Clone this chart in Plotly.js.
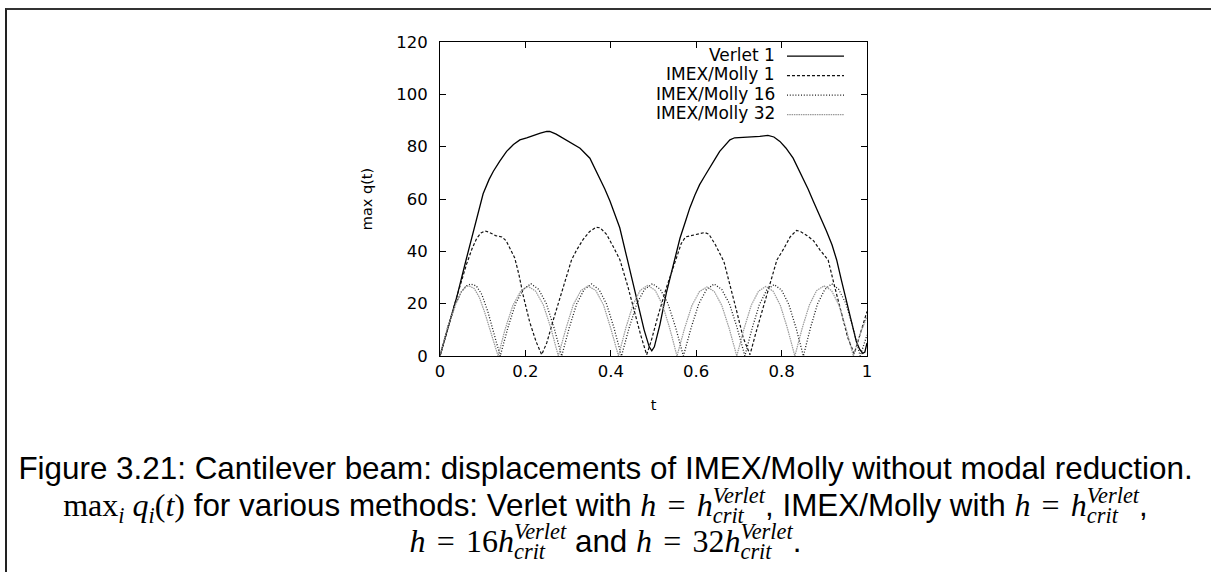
<!DOCTYPE html>
<html><head><meta charset="utf-8">
<script src="https://cdn.plot.ly/plotly-3.0.1.min.js"></script>
<style>
body{margin:0;background:#fff;width:1211px;height:572px;overflow:hidden;position:relative;font-family:"Liberation Sans",Arial,sans-serif}
#plot{position:absolute;left:0;top:0;width:1211px;height:572px}
#frame{position:absolute;left:5px;top:8px;right:-10px;bottom:-10px;border-left:2px solid #222;border-top:2px solid #333;pointer-events:none}
.cap{position:absolute;left:0;width:1211px;text-align:center;font-size:31.4px;line-height:36px;height:36px;color:#000;white-space:nowrap}
.m{font-family:"Liberation Serif","DejaVu Serif",serif;font-size:32px}
.eq{margin:0 0.1em}
.sb{font-size:0.7em;vertical-align:-0.3em;line-height:0;font-style:italic}
.ss{position:relative;top:-0.6em;font-size:0.7em;font-style:italic;line-height:0}
.ss .sub{position:absolute;left:0;top:0.92em;line-height:normal}
</style></head>
<body>
<div id="plot"></div>
<div id="frame"></div>
<div class="cap" id="c1" style="top:451px">Figure 3.21: Cantilever beam: displacements of IMEX/Molly without modal reduction.</div>
<div class="cap" id="c2" style="top:487px"><span class="m">max<span class="sb">i</span> <i>q</i><span class="sb">i</span>(<i>t</i>)</span> for various methods: Verlet with <span class="m"><i>h</i> <span class="eq">=</span> <i>h</i><span class="ss">Verlet<span class="sub">crit</span></span></span>, IMEX/Molly with <span class="m"><i>h</i> <span class="eq">=</span> <i>h</i><span class="ss">Verlet<span class="sub">crit</span></span></span>,</div>
<div class="cap" id="c3" style="top:523px"><span class="m"><i>h</i> <span class="eq">=</span> 16<i>h</i><span class="ss">Verlet<span class="sub">crit</span></span></span> and <span class="m"><i>h</i> <span class="eq">=</span> 32<i>h</i><span class="ss">Verlet<span class="sub">crit</span></span></span>.</div>
<script>
// ---- data ----
const seriesNames = ["Verlet 1", "IMEX/Molly 1", "IMEX/Molly 16", "IMEX/Molly 32"];
const xTickVals = [0, 0.2, 0.4, 0.6, 0.8, 1];
const xTickLabels = ["0", "0.2", "0.4", "0.6", "0.8", "1"];
const yTickVals = [0, 20, 40, 60, 80, 100, 120];
const yTickLabels = ["0", "20", "40", "60", "80", "100", "120"];

const tVerlet = [0,0.02,0.04,0.061,0.075,0.086,0.101,0.115,0.125,0.14,
 0.156,0.172,0.187,0.203,0.218,0.235,0.25,0.257,0.272,0.289,
 0.31,0.328,0.351,0.362,0.374,0.386,0.398,0.41,0.421,0.439,
 0.46,0.478,0.49,0.496,0.502,0.515,0.53,0.55,0.562,0.575,
 0.585,0.597,0.608,0.62,0.632,0.645,0.655,0.668,0.679,0.69,
 0.702,0.715,0.725,0.738,0.749,0.768,0.782,0.796,0.81,0.827,
 0.838,0.85,0.862,0.874,0.89,0.905,0.918,0.929,0.94,0.952,
 0.96,0.967,0.975,0.983,0.99,0.995,1];
const qVerlet = [0,12,23,36.7,45.5,52.8,62,67.5,70.6,74.5,
 78.2,80.8,82.6,83.4,84.3,85.2,85.8,85.8,84.8,83.2,
 81,79.4,75.6,72,68,63.8,59.2,54,49,36.7,
 22,10,3.5,2,3.5,12,24,36.7,45,51.5,
 56.6,61.5,65.5,68.8,71.8,75.5,78.2,80.7,82.6,83.4,
 83.5,83.6,83.5,83.7,83.9,84.3,83.7,82,79.5,75.6,
 72,68,63.8,59.2,53.5,47.8,42.5,36.7,29,21,
 15,10,5.5,2.5,1,1.5,5];

const tMolly1 = [0,0.02,0.04,0.062,0.075,0.086,0.096,0.105,0.115,0.13,
 0.145,0.155,0.165,0.175,0.185,0.195,0.21,0.225,0.238,0.25,
 0.265,0.28,0.296,0.308,0.32,0.335,0.35,0.365,0.375,0.39,
 0.405,0.4215,0.44,0.455,0.47,0.484,0.495,0.51,0.53,0.554,
 0.565,0.575,0.59,0.605,0.62,0.63,0.645,0.665,0.68,0.695,
 0.71,0.726,0.74,0.755,0.77,0.789,0.805,0.82,0.835,0.845,
 0.86,0.875,0.89,0.909,0.925,0.94,0.955,0.97,0.985,1];
const qMolly1 = [0,12,23,35,41,45,47,47.8,47.3,46,
 45.5,44,41,37.5,31,23,13,5.5,0.5,5,
 13.6,22,30,36.7,40.5,44.5,47.5,49.2,49,46.5,
 42,36.7,26.5,17,8,0.5,6,15,26,37.6,
 43,45.5,46,46.5,47.2,46.5,42.5,36,27,17,
 7,0.5,9,17.5,26,36.7,41,45.5,48,47.5,
 46,44,40.5,36.7,26,16,7,0.8,9,17];

const tMolly16 = [0,0.018,0.037,0.05,0.062,0.072,0.085,0.098,0.112,0.126,0.141,
 0.159,0.177,0.195,0.213,0.231,0.249,0.267,0.285,
 0.3025,0.32,0.3375,0.355,0.3725,0.39,0.4075,0.425,
 0.443,0.461,0.479,0.4975,0.516,0.534,0.552,0.57,
 0.588,0.606,0.624,0.642,0.66,0.678,0.696,0.714,
 0.731,0.748,0.765,0.7825,0.8,0.817,0.834,0.851,
 0.8675,0.884,0.901,0.9175,0.934,0.951,0.9675,0.984,1];
const qMolly16 = [0,11,20,24.5,26.8,27.5,26.8,23.5,17,9,0,
 10.8,20,25.5,27.6,25.5,20,10.8,0,
 10.7,19.9,25.4,27.5,25.4,19.9,10.7,0,
 10.8,20,25.5,27.6,25.5,20,10.8,0,
 10.7,19.9,25.4,27.5,25.4,19.9,10.7,0,
 10.6,19.7,25.2,27.3,25.2,19.7,10.6,0,
 10.7,19.9,25.4,27.6,25.4,19.9,10.7,0,8];

const tMolly32 = [0,0.018,0.037,0.05,0.06,0.068,0.08,0.092,0.105,0.12,0.136,
 0.153,0.171,0.189,0.206,0.224,0.242,0.26,0.277,
 0.295,0.312,0.33,0.347,0.365,0.383,0.4,0.418,
 0.435,0.452,0.469,0.4865,0.504,0.521,0.538,0.555,
 0.5725,0.59,0.6075,0.625,0.6425,0.66,0.6775,0.695,
 0.712,0.729,0.746,0.763,0.78,0.797,0.814,0.831,
 0.848,0.865,0.882,0.8995,0.917,0.934,0.951,0.968,0.984,1];
const qMolly32 = [0,11,20,24.5,26.5,26.8,25.8,22.5,16.5,8.5,0,
 10.5,19.5,24.8,26.6,24.8,19.5,10.5,0,
 10.5,19.5,25,26.8,25,19.5,10.5,0,
 10.6,19.6,25.1,27,25.1,19.6,10.6,0,
 10.4,19.3,24.6,26.4,24.6,19.3,10.4,0,
 10.4,19.4,24.8,26.6,24.8,19.4,10.4,0,
 10.5,19.5,25,26.8,25,19.5,10.5,0,8.5,15];

// ---- styling ----
const styles = [
  {color:"#000000", dash:"solid", width:1.3},
  {color:"#111111", dash:"3px,2px", width:1.2},
  {color:"#1a1a1a", dash:"1px,1.8px", width:1.3},
  {color:"#999999", dash:"1.5px,0.8px", width:1.2}
];
const xs = [tVerlet, tMolly1, tMolly16, tMolly32];
const ys = [qVerlet, qMolly1, qMolly16, qMolly32];

const traces = seriesNames.map((n,i)=>({
  x: xs[i], y: ys[i], name: n, type: "scatter", mode: "lines",
  line: {color: styles[i].color, dash: styles[i].dash, width: styles[i].width},
  showlegend: false, hoverinfo: "skip"
}));

const fam = '"DejaVu Sans", "Liberation Sans", Arial, sans-serif';
// gnuplot-style legend inside the plot: right-aligned text, sample to the right
const legTextX = 0.789, legLineX0 = 0.8126, legLineX1 = 0.9461;
const legRowY = [0.959, 0.897, 0.835, 0.773];
const annotations = seriesNames.map((n,i)=>({
  xref:"paper", yref:"paper", x: legTextX, y: legRowY[i], xanchor:"right", yanchor:"middle",
  text: n, showarrow:false, font:{family: fam, size:17, color:"#000"}
}));
const shapes = seriesNames.map((n,i)=>({
  type:"line", xref:"paper", yref:"paper", x0: legLineX0, x1: legLineX1, y0: legRowY[i]-0.004, y1: legRowY[i]-0.004,
  line:{color: styles[i].color, dash: styles[i].dash, width: styles[i].width}
}));

const font = {family: fam, size:16.5, color:"#000"};
const layout = {
  width: 1211, height: 572,
  margin: {l:440, r:344, t:42, b:216, pad:0},
  paper_bgcolor: "rgba(0,0,0,0)", plot_bgcolor: "rgba(0,0,0,0)",
  font: font,
  showlegend: false,
  xaxis: {
    range:[0,1], tickvals: xTickVals, ticktext: xTickLabels,
    ticks:"inside", ticklen:6, tickwidth:1, tickcolor:"#000",
    showline:true, linecolor:"#000", linewidth:1, mirror:"ticks",
    showgrid:false, zeroline:false, tickfont: font, ticklabelstandoff: 0,
    title: {text:"t", font:{family:fam, size:14.5, color:"#000"}, standoff: 20},
    automargin:false
  },
  yaxis: {
    range:[0,120], tickvals: yTickVals, ticktext: yTickLabels,
    ticks:"inside", ticklen:6, tickwidth:1, tickcolor:"#000",
    showline:true, linecolor:"#000", linewidth:1, mirror:"ticks",
    showgrid:false, zeroline:false, tickfont: font, ticklabelstandoff: 8,
    title: {text:"max q(t)", font:{family:fam, size:14.5, color:"#000"}, standoff: 20},
    automargin:false
  },
  annotations: annotations,
  shapes: shapes
};
Plotly.newPlot("plot", traces, layout, {staticPlot:true, displayModeBar:false});
</script>
</body></html>
